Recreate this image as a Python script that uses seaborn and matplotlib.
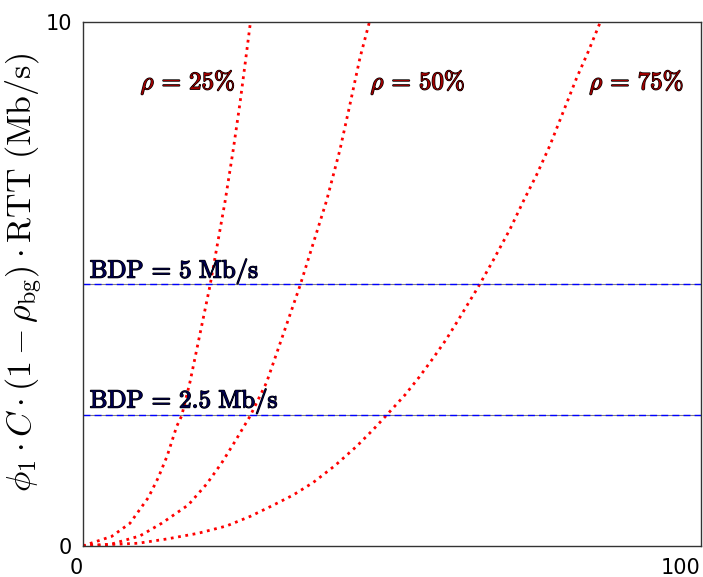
import matplotlib
matplotlib.use("Agg")
import matplotlib.pyplot as plt
import matplotlib.patheffects as pe
import seaborn as sns
import pandas as pd

# Sampled curves: x position vs. phi1*C*(1-rho_bg)*RTT (Mb/s)
x_rho25 = [0, 4.64, 7.60, 10.57, 12.18, 13.64, 15.17, 15.97, 17.31, 20.55, 22.98, 24.32, 25.41, 26.22, 27.11]
y_rho25 = [0, 0.18, 0.43, 0.92, 1.30, 1.72, 2.28, 2.48, 3.12, 4.96, 6.56, 7.56, 8.45, 9.18, 10.0]

x_rho50 = [0, 4.5, 9.23, 12.73, 17.04, 20.02, 22.44, 24.59, 27.02, 29.72, 35.11, 39.43, 41.59, 43.20, 44.82, 46.36]
y_rho50 = [0, 0.03, 0.19, 0.43, 0.78, 1.18, 1.58, 1.99, 2.47, 3.12, 4.96, 6.59, 7.56, 8.42, 9.31, 10.0]

x_rho75 = [0, 8.95, 13.52, 18.65, 23.25, 27.02, 30.52, 34.03, 37.27, 40.77, 44.29, 46.98, 48.87,
           52.11, 54.41, 56.59, 58.73, 60.73, 62.62, 63.96, 66.39, 69.09, 71.36, 73.41, 75.56,
           77.71, 79.89, 81.76, 83.73]
y_rho75 = [0, 0.05, 0.13, 0.24, 0.38, 0.56, 0.76, 0.97, 1.21, 1.53, 1.90, 2.22, 2.46,
           2.88, 3.22, 3.57, 3.93, 4.31, 4.68, 4.94, 5.45, 6.04, 6.60, 7.08, 7.64,
           8.28, 8.93, 9.43, 10.0]

rho_labels = [r"$\rho\,=\,25\%$", r"$\rho\,=\,50\%$", r"$\rho\,=\,75\%$"]
rho_label_x = [17.0, 54.2, 89.6]
rho_label_y = 8.84

bdp_values = [5.0, 2.5]
bdp_labels = [r"$\mathrm{BDP}\,=\,5\ \mathrm{Mb/s}$", r"$\mathrm{BDP}\,=\,2.5\ \mathrm{Mb/s}$"]
bdp_label_y = [5.12, 2.64]

x_ticks = [0, 100]
y_ticks = [0, 10]

sns.set_style("white")
plt.rcParams["mathtext.fontset"] = "cm"
plt.rcParams["font.family"] = ["DejaVu Sans"]
plt.rcParams["text.color"] = "black"
plt.rcParams["axes.labelcolor"] = "black"

fig = plt.figure(figsize=(7.03, 5.77), dpi=100)
ax = fig.add_axes([0.118, 0.054, 0.879, 0.908])

curves = [(x_rho25, y_rho25), (x_rho50, y_rho50), (x_rho75, y_rho75)]
for xs, ys in curves:
    df = pd.DataFrame({"x": xs, "y": ys})
    sns.lineplot(data=df, x="x", y="y", ax=ax, color="red", linestyle=":",
                 linewidth=2.0, sort=False, estimator=None, clip_on=True)

for v in bdp_values:
    ax.axhline(v, color="0.5", linewidth=0.8, zorder=1)
    ax.axhline(v, color="blue", linewidth=1.0, linestyle=(0, (5, 3)), zorder=2)

stroke_k = [pe.withStroke(linewidth=1.0, foreground="black")]
for lbl, lx in zip(rho_labels, rho_label_x):
    ax.text(lx, rho_label_y, lbl, color="#a00000", fontsize=18,
            ha="center", va="center", path_effects=stroke_k)

for ly, lbl in zip(bdp_label_y, bdp_labels):
    ax.text(1.1, ly, lbl, color="#000050", fontsize=18,
            ha="left", va="baseline", path_effects=stroke_k)

ax.set_xlim(0, 100)
ax.set_ylim(0, 10)
ax.set_xticks(x_ticks)
ax.set_yticks(y_ticks)
ax.set_xticklabels([str(t) for t in x_ticks], ha="right")
ax.set_yticklabels([str(t) for t in y_ticks])
ax.tick_params(axis="both", which="both", length=0, labelsize=15, colors="black")
ax.tick_params(axis="x", pad=9)
ax.tick_params(axis="y", pad=8)
ax.set_xlabel("")
ax.set_ylabel(r"$\phi_1 \cdot C \cdot (1 - \rho_{\mathrm{bg}}) \cdot \mathrm{RTT}\ \mathrm{(Mb/s)}$",
              fontsize=24.5, color="black")
ax.yaxis.set_label_coords(-0.062, 0.522)
for s in ax.spines.values():
    s.set_color("#333333")
    s.set_linewidth(1.0)

fig.savefig("out.png", dpi=100)
